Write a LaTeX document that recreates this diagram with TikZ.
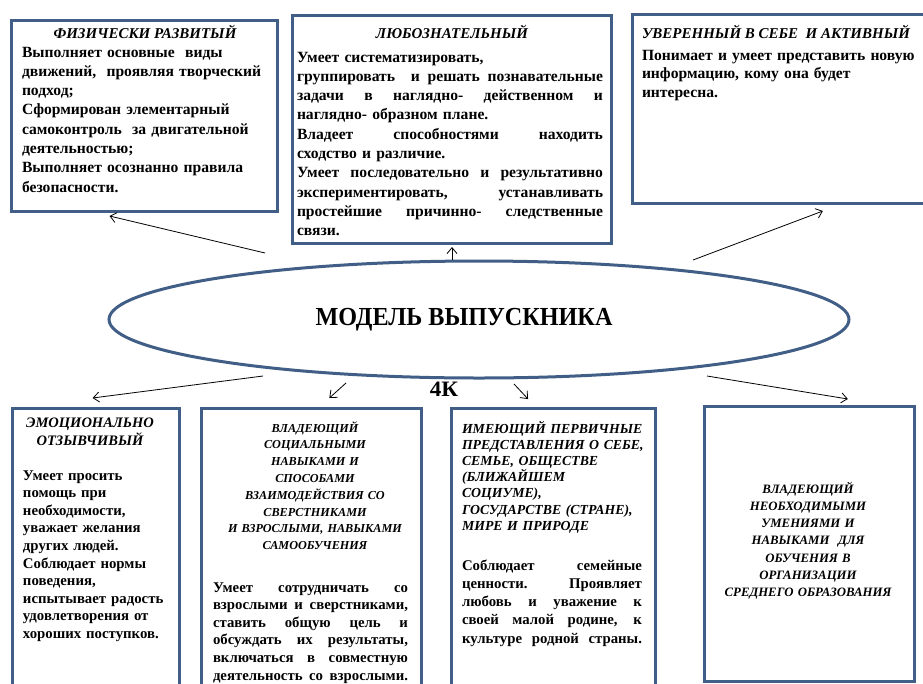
\documentclass[tikz,border=0pt]{standalone}
\usepackage{fontspec}
\setmainfont{Liberation Serif}
\usetikzlibrary{shapes.geometric,arrows.meta,calc}
\definecolor{frame}{RGB}{64,94,134}
\newcommand\fntTopBody{\bfseries\fontsize{15.6}{19.3}\selectfont}
\newcommand\fntTopTitle{\bfseries\itshape\fontsize{15}{19.3}\selectfont}
\newcommand\fntBotBody{\bfseries\fontsize{14.8}{17.6}\selectfont}
\newcommand\jl[2]{{\spaceskip=0pt\xspaceskip=0pt\makebox[#1][s]{#2}}}
\begin{document}
\begin{tikzpicture}[x=1pt,y=-1pt,
  box/.style={draw=frame,line width=3pt,fill=white,inner sep=0pt,anchor=north west},
  txt/.style={inner sep=0pt,outer sep=0pt},
  conn/.style={draw=black,line width=0.8pt,-{Straight Barb[length=6pt,width=10pt]}}]
\useasboundingbox[fill=white] (0,0) rectangle (923,683);
% boxes
\node[box,minimum width=266pt,minimum height=191pt] (b1) at (10,19) {};
\node[box,minimum width=319pt,minimum height=228pt] (b2) at (291,14) {};
\node[box,minimum width=304pt,minimum height=189pt] (b3) at (631,13) {};
\node[box,minimum width=167pt,minimum height=293pt] (b4) at (11,407) {};
\node[box,minimum width=220pt,minimum height=293pt] (b5) at (200,407) {};
\node[box,minimum width=204pt,minimum height=293pt] (b6) at (450,407) {};
\node[box,minimum width=210pt,minimum height=275pt] (b7) at (703,405) {};
% ellipse
\node[ellipse,draw=frame,line width=3pt,minimum width=740pt,minimum height=117pt,inner sep=0pt] (m) at (479,319.5) {};
\node[txt,anchor=base,font=\bfseries\fontsize{26}{30}\selectfont] (mt) at (464,325.5) {\scalebox{0.93}[1]{МОДЕЛЬ ВЫПУСКНИКА}};
\node[txt,anchor=base,font=\bfseries\fontsize{22}{26}\selectfont] (k4) at (444,396.5) {\scalebox{1.05}[1]{4К}};
% box 1
\node[txt,anchor=base,font=\fntTopTitle] (t1) at (145,38) {ФИЗИЧЕСКИ РАЗВИТЫЙ};
\node[txt,anchor=base west,text width=255pt,align=left,font=\fntTopBody] (x1) at (22,57) {Выполняет основные \ виды\\
движений, \ проявляя творческий\\
подход;\\
Сформирован элементарный\\
самоконтроль \ за двигательной\\
деятельностью;\\
Выполняет осознанно правила\\
безопасности.};
% box 2
\node[txt,anchor=base,font=\fntTopTitle] (t2) at (452,38) {ЛЮБОЗНАТЕЛЬНЫЙ};
\node[txt,anchor=base west,text width=310pt,align=left,font=\fntTopBody] (x2) at (297,62) {Умеет систематизировать,\\
\jl{306pt}{группировать \ и решать познавательные}\\
\jl{306pt}{задачи в наглядно- действенном и}\\
наглядно- образном плане.\\
\jl{306pt}{Владеет способностями находить}\\
сходство и различие.\\
\jl{306pt}{Умеет последовательно и результативно}\\
\jl{306pt}{экспериментировать, устанавливать}\\
\jl{306pt}{простейшие причинно- следственные}\\
связи.};
% box 3
\node[txt,anchor=base west,font=\fntTopTitle] (t3) at (642,38) {УВЕРЕННЫЙ В СЕБЕ \ И АКТИВНЫЙ};
\node[txt,anchor=base west,text width=290pt,align=left,font=\bfseries\fontsize{15.6}{18.8}\selectfont] (x3) at (642,60) {Понимает и умеет представить новую\\
информацию, кому она будет\\
интересна.};
% box 4
\node[txt,anchor=base,text width=160pt,align=center,font=\bfseries\itshape\fontsize{14.5}{18}\selectfont] (t4) at (90,427) {ЭМОЦИОНАЛЬНО\\ОТЗЫВЧИВЫЙ};
\node[txt,anchor=base west,text width=160pt,align=left,font=\fntBotBody] (x4) at (23,480) {Умеет просить\\
помощь при\\
необходимости,\\
уважает желания\\
других людей.\\
Соблюдает нормы\\
поведения,\\
испытывает радость\\
удовлетворения от\\
хороших поступков.};
% box 5
\node[txt,anchor=base,text width=215pt,align=center,font=\bfseries\itshape\fontsize{12.2}{16.8}\selectfont] (t5) at (315,432) {ВЛАДЕЮЩИЙ\\
СОЦИАЛЬНЫМИ\\
НАВЫКАМИ И\\
СПОСОБАМИ\\
ВЗАИМОДЕЙСТВИЯ СО\\
СВЕРСТНИКАМИ\\
И ВЗРОСЛЫМИ, НАВЫКАМИ\\
САМООБУЧЕНИЯ};
\node[txt,anchor=base west,text width=200pt,align=left,font=\fntBotBody] (x5) at (213,592) {\jl{195pt}{Умеет сотрудничать со}\\
\jl{195pt}{взрослыми и сверстниками,}\\
\jl{195pt}{ставить общую цель и}\\
\jl{195pt}{обсуждать их результаты,}\\
\jl{195pt}{включаться в совместную}\\
\jl{195pt}{деятельность со взрослыми.}};
% box 6
\node[txt,anchor=base west,text width=195pt,align=left,font=\bfseries\itshape\fontsize{13.8}{16.2}\selectfont] (t6) at (462,433) {ИМЕЮЩИЙ ПЕРВИЧНЫЕ\\
ПРЕДСТАВЛЕНИЯ О СЕБЕ,\\
СЕМЬЕ, ОБЩЕСТВЕ\\
(БЛИЖАЙШЕМ\\
СОЦИУМЕ),\\
ГОСУДАРСТВЕ (СТРАНЕ),\\
МИРЕ И ПРИРОДЕ};
\node[txt,anchor=base west,text width=190pt,align=left,font=\bfseries\fontsize{14.8}{18.3}\selectfont] (x6) at (462,570) {\jl{180pt}{Соблюдает семейные}\\
\jl{180pt}{ценности. Проявляет}\\
\jl{180pt}{любовь и уважение к}\\
\jl{180pt}{своей малой родине, к}\\
\jl{180pt}{культуре родной страны.}};
% box 7
\node[txt,anchor=base,text width=205pt,align=center,font=\bfseries\itshape\fontsize{12.8}{17.3}\selectfont] (t7) at (808,493) {ВЛАДЕЮЩИЙ\\
НЕОБХОДИМЫМИ\\
УМЕНИЯМИ И\\
НАВЫКАМИ \ ДЛЯ\\
ОБУЧЕНИЯ В\\
ОРГАНИЗАЦИИ\\
СРЕДНЕГО ОБРАЗОВАНИЯ};
% connectors
\coordinate (s1) at (265,253);
\coordinate (s3) at (693,260);
\coordinate (s4) at (263,376);
\coordinate (s5) at (346,383);
\coordinate (s6) at (514,384);
\coordinate (s7) at (707,376);
\draw[conn] (s1) -- ($(b1.south west)!0.37!(b1.south east)+(0,3)$);
\draw[conn] (m.north -| b2.south) -- ($(b2.south)+(0,2)$);
\draw[conn] (s3) -- ($(b3.south west)!0.625!(b3.south east)+(0,6)$);
\draw[conn] (s4) -- ($(b4.north west)!0.48!(b4.north east)+(0,-9)$);
\draw[conn] (s5) -- ($(b5.north west)!0.58!(b5.north east)+(0,-9)$);
\draw[conn] (s6) -- ($(b6.north west)!0.377!(b6.north east)+(0,-8)$);
\draw[conn] (s7) -- ($(b7.north west)!0.68!(b7.north east)+(0,-6)$);
\end{tikzpicture}
\end{document}
